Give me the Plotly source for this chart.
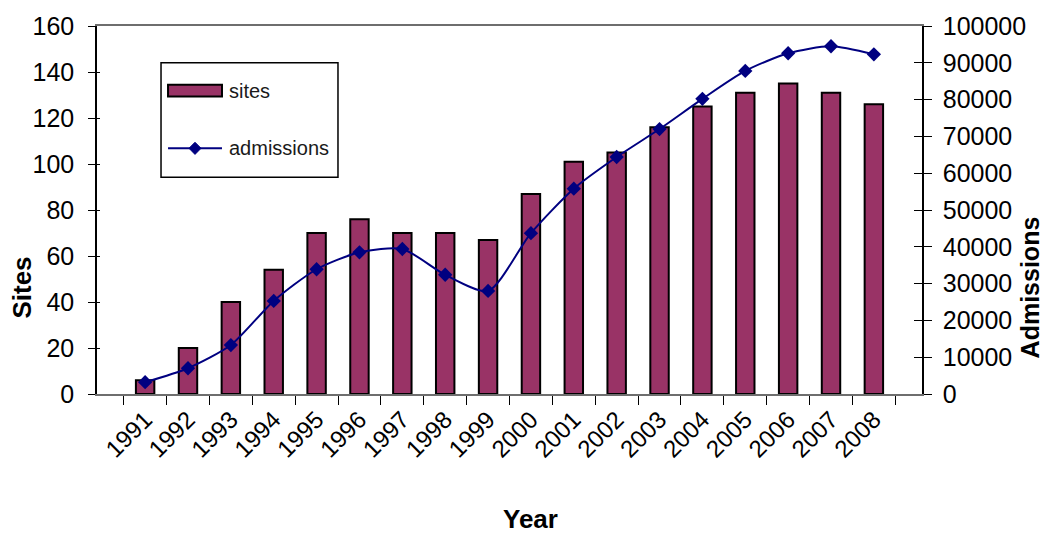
import plotly.graph_objects as go

# Sites and admissions by year
years = ["1991", "1992", "1993", "1994", "1995", "1996", "1997", "1998", "1999",
         "2000", "2001", "2002", "2003", "2004", "2005", "2006", "2007", "2008"]
sites = [6, 20, 40, 54, 70, 76, 70, 70, 67, 87, 101, 105, 116, 125, 131, 135, 131, 126]
admissions = [3200, 7000, 13300, 25300, 33900, 38500, 39400, 32400, 28000,
              43700, 55800, 64400, 72000, 80200, 87800, 92600, 94500, 92300]

sites_ticks = [0, 20, 40, 60, 80, 100, 120, 140, 160]
adm_ticks = [0, 10000, 20000, 30000, 40000, 50000, 60000, 70000, 80000, 90000, 100000]

FONT = "Liberation Sans, Arial, sans-serif"
BAR_COLOR = "#993366"
LINE_COLOR = "#000080"

fig = go.Figure()

fig.add_trace(go.Bar(
    x=years, y=sites, name="sites",
    marker=dict(color=BAR_COLOR, line=dict(color="black", width=2)),
    width=0.43, yaxis="y", showlegend=False,
))

fig.add_trace(go.Scatter(
    x=years, y=admissions, name="admissions", mode="lines+markers",
    line=dict(color=LINE_COLOR, width=2, shape="spline", smoothing=0.7),
    marker=dict(symbol="diamond", size=11, color=LINE_COLOR),
    yaxis="y2", showlegend=False,
))

# empty traces so the inner-tick overlay axes get drawn
fig.add_trace(go.Scatter(x=[], y=[], yaxis="y3", showlegend=False, hoverinfo="skip"))
fig.add_trace(go.Scatter(x=[], y=[], yaxis="y4", showlegend=False, hoverinfo="skip"))

tick_font = dict(size=25, family=FONT, color="black")

fig.update_layout(
    width=1048, height=534,
    margin=dict(l=97, r=126, t=24, b=140),
    paper_bgcolor="white", plot_bgcolor="white",
    font=dict(family=FONT, color="black"),
    showlegend=False,
    xaxis=dict(
        type="category", tickangle=-45, tickfont=dict(size=24, family=FONT),
        showline=True, linecolor="#6e6e6e", linewidth=2, mirror=True,
        ticks="outside", tickson="boundaries", ticklen=9, tickcolor="black",
        showgrid=False, zeroline=False,
    ),
    yaxis=dict(
        range=[0, 160], tickvals=sites_ticks, tickfont=tick_font,
        showline=True, linecolor="black", linewidth=1.5,
        ticks="outside", ticklen=7, tickcolor="black", ticklabelstandoff=9,
        showgrid=False, zeroline=False,
    ),
    yaxis2=dict(
        range=[0, 100000], tickvals=adm_ticks, tickformat="d", tickfont=tick_font,
        overlaying="y", side="right",
        showline=True, linecolor="black", linewidth=1.5,
        ticks="outside", ticklen=8, tickcolor="black", ticklabelstandoff=6,
        showgrid=False, zeroline=False,
    ),
    yaxis3=dict(
        range=[0, 160], tickvals=sites_ticks, overlaying="y", side="left",
        showticklabels=False, ticks="inside", ticklen=3, tickcolor="black",
        showline=False, showgrid=False, zeroline=False,
    ),
    yaxis4=dict(
        range=[0, 100000], tickvals=adm_ticks, overlaying="y", side="right",
        showticklabels=False, ticks="inside", ticklen=8, tickcolor="black",
        showline=False, showgrid=False, zeroline=False,
    ),
    bargap=0.5,
)

# Axis titles
title_font = dict(size=26, family=FONT, color="black")
fig.add_annotation(text="<b>Sites</b>", xref="paper", yref="paper",
                   x=-0.091, y=0.289, textangle=-90, showarrow=False,
                   xanchor="center", yanchor="middle", font=title_font)
fig.add_annotation(text="<b>Admissions</b>", xref="paper", yref="paper",
                   x=1.1306, y=0.289, textangle=-90, showarrow=False,
                   xanchor="center", yanchor="middle", font=dict(size=25, family=FONT, color="black"))
fig.add_annotation(text="<b>Year</b>", xref="paper", yref="paper",
                   x=0.525, y=-0.34, showarrow=False,
                   xanchor="center", yanchor="middle", font=title_font)

# Legend box drawn in paper coordinates
legend_font = dict(size=20, family=FONT, color="#1a1a1a")
fig.add_shape(type="rect", xref="paper", yref="paper",
              x0=0.0776, x1=0.2921, y0=0.5892, y1=0.9,
              line=dict(color="black", width=1.5), fillcolor="white", layer="above")
fig.add_shape(type="rect", xref="paper", yref="paper",
              x0=0.0861, x1=0.1515, y0=0.8081, y1=0.8405,
              line=dict(color="black", width=2), fillcolor=BAR_COLOR, layer="above")
fig.add_shape(type="line", xref="paper", yref="paper",
              x0=0.0861, x1=0.1515, y0=0.6676, y1=0.6676,
              line=dict(color=LINE_COLOR, width=2), layer="above")
cx, cy, dx, dy = 0.1188, 0.6676, 0.0073, 0.0165
fig.add_shape(type="path", xref="paper", yref="paper",
              path=f"M {cx-dx},{cy} L {cx},{cy+dy} L {cx+dx},{cy} L {cx},{cy-dy} Z",
              line=dict(color=LINE_COLOR, width=1), fillcolor=LINE_COLOR, layer="above")
fig.add_annotation(text="sites", xref="paper", yref="paper", x=0.1576, y=0.8243,
                   xanchor="left", yanchor="middle", showarrow=False, font=legend_font)
fig.add_annotation(text="admissions", xref="paper", yref="paper", x=0.1576, y=0.6676,
                   xanchor="left", yanchor="middle", showarrow=False, font=legend_font)

fig.write_html("out.html")
